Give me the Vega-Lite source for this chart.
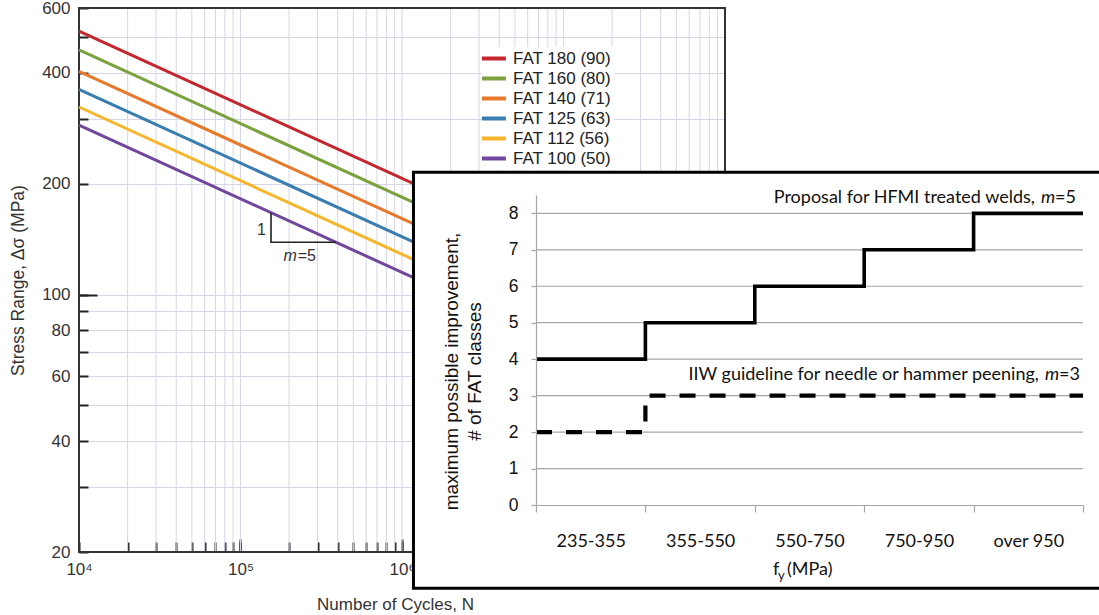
{
  "$schema": "https://vega.github.io/schema/vega-lite/v6.json",
  "width": 1099,
  "height": 615,
  "autosize": {"type": "none"},
  "padding": 0,
  "background": "white",
  "config": {"view": {"stroke": null}, "font": "Liberation Sans"},
  "datasets": {
    "gridN": [
      {"N": 20000}, {"N": 30000}, {"N": 40000}, {"N": 50000}, {"N": 60000}, {"N": 70000}, {"N": 80000}, {"N": 90000},
      {"N": 100000}, {"N": 200000}, {"N": 300000}, {"N": 400000}, {"N": 500000}, {"N": 600000}, {"N": 700000}, {"N": 800000}, {"N": 900000},
      {"N": 1000000}, {"N": 2000000}, {"N": 3000000}, {"N": 4000000}, {"N": 5000000}, {"N": 6000000}, {"N": 7000000}, {"N": 8000000}, {"N": 9000000},
      {"N": 10000000}, {"N": 20000000}, {"N": 30000000}, {"N": 40000000}, {"N": 50000000}, {"N": 60000000}, {"N": 70000000}, {"N": 80000000}, {"N": 90000000}
    ],
    "fat": [
      {"series": "FAT 180 (90)", "N": 10000, "S": 519.3}, {"series": "FAT 180 (90)", "N": 10000000, "S": 130.5},
      {"series": "FAT 160 (80)", "N": 10000, "S": 461.6}, {"series": "FAT 160 (80)", "N": 10000000, "S": 116.0},
      {"series": "FAT 140 (71)", "N": 10000, "S": 403.9}, {"series": "FAT 140 (71)", "N": 10000000, "S": 101.5},
      {"series": "FAT 125 (63)", "N": 10000, "S": 360.6}, {"series": "FAT 125 (63)", "N": 10000000, "S": 90.6},
      {"series": "FAT 112 (56)", "N": 10000, "S": 323.1}, {"series": "FAT 112 (56)", "N": 10000000, "S": 81.2},
      {"series": "FAT 100 (50)", "N": 10000, "S": 288.5}, {"series": "FAT 100 (50)", "N": 10000000, "S": 72.5}
    ],
    "slope": [
      {"N": 154500, "S": 166.9, "o": 1},
      {"N": 154500, "S": 138.7, "o": 2},
      {"N": 390000, "S": 138.7, "o": 3}
    ],
    "mainNotes": [
      {"N": 154500, "S": 150, "part": "rise", "label": "1"},
      {"N": 223000, "S": 127.6, "part": "m", "label": "m"},
      {"N": 223000, "S": 127.6, "part": "val", "label": "=5"}
    ],
    "steps": [
      {"i": 0, "band": "235-355", "hfmi": 4, "iiw": 2},
      {"i": 1, "band": "355-550", "hfmi": 5, "iiw": 3},
      {"i": 2, "band": "550-750", "hfmi": 6, "iiw": 3},
      {"i": 3, "band": "750-950", "hfmi": 7, "iiw": 3},
      {"i": 4, "band": "over 950", "hfmi": 8, "iiw": 3},
      {"i": 5, "band": "", "hfmi": 8, "iiw": 3}
    ],
    "igrid": [{"v": 1}, {"v": 2}, {"v": 3}, {"v": 4}, {"v": 5}, {"v": 6}, {"v": 7}, {"v": 8}],
    "insetNotes": [
      {"i": 5, "v": 8.42, "part": "h_text", "label": "Proposal for HFMI treated welds,"},
      {"i": 5, "v": 8.42, "part": "h_m", "label": "m"},
      {"i": 5, "v": 8.42, "part": "h_val", "label": "=5"},
      {"i": 5, "v": 3.566, "part": "g_text", "label": "IIW guideline for needle or hammer peening,"},
      {"i": 5, "v": 3.566, "part": "g_m", "label": "m"},
      {"i": 5, "v": 3.566, "part": "g_val", "label": "=3"},
      {"i": 2.5, "v": -1.783, "part": "t_f", "label": "f"},
      {"i": 2.5, "v": -1.783, "part": "t_y", "label": "y"},
      {"i": 2.5, "v": -1.783, "part": "t_unit", "label": "(MPa)"}
    ]
  },
  "layer": [
    {
      "resolve": {"axis": {"x": "independent", "y": "independent"}},
      "layer": [
        {
          "data": {"name": "gridN"},
          "mark": {"type": "rule", "color": "#d6d6e8", "strokeWidth": 1},
          "encoding": {
            "x": {"field": "N", "type": "quantitative", "scale": {"type": "log", "domain": [10000, 100000000], "range": [79, 725], "nice": false}, "axis": null},
            "y": {"datum": 20, "type": "quantitative", "scale": {"type": "log", "domain": [20, 600], "range": [552, 8], "nice": false}, "axis": null},
            "y2": {"datum": 600}
          }
        },
        {
          "data": {"values": [{"frame": "plot"}]},
          "mark": {"type": "rect", "filled": false, "stroke": "#333333", "strokeWidth": 2},
          "encoding": {
            "x": {"datum": 10000, "type": "quantitative", "scale": {"type": "log", "domain": [10000, 100000000], "range": [79, 725], "nice": false}, "axis": null},
            "x2": {"datum": 100000000},
            "y": {"datum": 20, "type": "quantitative", "scale": {"type": "log", "domain": [20, 600], "range": [552, 8], "nice": false}, "axis": null},
            "y2": {"datum": 600}
          }
        },
        {
          "data": {"name": "fat"},
          "mark": {"type": "line", "strokeWidth": 3},
          "encoding": {
            "x": {
              "field": "N", "type": "quantitative",
              "scale": {"type": "log", "domain": [10000, 100000000], "range": [79, 725], "nice": false},
              "axis": {
                "orient": "bottom", "offset": -63, "domain": false, "grid": false,
                "values": [10000, 20000, 30000, 40000, 50000, 60000, 70000, 80000, 90000, 100000, 200000, 300000, 400000, 500000, 600000, 700000, 800000, 900000, 1000000, 2000000, 3000000, 4000000, 5000000, 6000000, 7000000, 8000000, 9000000, 10000000, 20000000, 30000000, 40000000, 50000000, 60000000, 70000000, 80000000, 90000000, 100000000],
                "tickColor": "#222222", "tickWidth": 2, "tickSize": -10, "labelPadding": 19,
                "labelExpr": "datum.value==10000?'10⁴':datum.value==100000?'10⁵':datum.value==1000000?'10⁶':datum.value==10000000?'10⁷':''",
                "labelFont": "Liberation Sans", "labelFontSize": 17, "labelColor": "#333333", "labelOverlap": false, "labelFlush": false,
                "title": "Number of Cycles, N", "titleFont": "Liberation Sans", "titleFontSize": 17, "titleFontWeight": "normal", "titleColor": "#333333",
                "titleX": 395, "titleY": 52, "titleBaseline": "middle", "titleAlign": "center"
              }
            },
            "y": {
              "field": "S", "type": "quantitative",
              "scale": {"type": "log", "domain": [20, 600], "range": [552, 8], "nice": false},
              "axis": {
                "orient": "left", "offset": -79, "domain": false, "grid": true, "gridColor": "#d6d6e8", "gridWidth": 1,
                "values": [20, 30, 40, 50, 60, 70, 80, 90, 100, 200, 300, 400, 500, 600],
                "tickColor": "#222222", "tickWidth": 2, "tickSize": -9, "labelPadding": 18,
                "format": "d",
                "labelExpr": "indexof([20,40,60,80,100,200,400,600], datum.value) >= 0 ? datum.label : ''",
                "labelFont": "Liberation Sans", "labelFontSize": 17, "labelColor": "#333333", "labelOverlap": false, "labelFlush": false,
                "title": "Stress Range, Δσ (MPa)", "titleFont": "Liberation Sans", "titleFontSize": 17.5, "titleFontWeight": "normal", "titleColor": "#333333",
                "titleX": -61, "titleY": 280, "titleBaseline": "middle", "titleAlign": "center"
              }
            },
            "color": {
              "field": "series", "type": "nominal",
              "scale": {
                "domain": ["FAT 180 (90)", "FAT 160 (80)", "FAT 140 (71)", "FAT 125 (63)", "FAT 112 (56)", "FAT 100 (50)"],
                "range": ["#c4262e", "#7ba23f", "#e8782a", "#3a7db0", "#f6b52a", "#71479d"]
              },
              "legend": {
                "orient": "none", "legendX": 482.4, "legendY": 47, "title": null,
                "symbolType": "M-2,0H2", "symbolSize": 144, "symbolStrokeWidth": 4,
                "labelFont": "Liberation Sans", "labelFontSize": 17, "labelColor": "#222222", "labelOffset": 10.6,
                "rowPadding": 2, "padding": 3, "fillColor": "white", "strokeColor": null
              }
            }
          }
        },
        {
          "data": {"name": "slope"},
          "mark": {"type": "line", "color": "#222222", "strokeWidth": 1.6},
          "encoding": {
            "x": {
              "field": "N", "type": "quantitative",
              "scale": {"type": "log", "domain": [10000, 100000000], "range": [79, 725], "nice": false},
              "axis": {"orient": "bottom", "offset": -63, "domain": false, "grid": false, "labels": false, "title": null,
                       "values": [100000, 1000000, 10000000], "tickColor": "#222222", "tickWidth": 2, "tickSize": -13}
            },
            "y": {
              "field": "S", "type": "quantitative",
              "scale": {"type": "log", "domain": [20, 600], "range": [552, 8], "nice": false},
              "axis": {"orient": "left", "offset": -79, "domain": false, "grid": false, "labels": false, "title": null,
                       "values": [100], "tickColor": "#222222", "tickWidth": 2, "tickSize": -18}
            },
            "order": {"field": "o", "type": "quantitative"}
          }
        },
        {
          "data": {"name": "mainNotes"},
          "transform": [{"filter": "datum.part == 'rise'"}],
          "mark": {"type": "text", "align": "right", "dx": -5, "font": "Liberation Sans", "fontSize": 16, "color": "#333333"},
          "encoding": {
            "x": {"field": "N", "type": "quantitative", "scale": {"type": "log", "domain": [10000, 100000000], "range": [79, 725], "nice": false}, "axis": null},
            "y": {"field": "S", "type": "quantitative", "scale": {"type": "log", "domain": [20, 600], "range": [552, 8], "nice": false}, "axis": null},
            "text": {"field": "label"}
          }
        },
        {
          "data": {"name": "mainNotes"},
          "transform": [{"filter": "datum.part == 'm'"}],
          "mark": {"type": "text", "align": "right", "dx": 0, "font": "Liberation Sans", "fontSize": 16, "fontStyle": "italic", "color": "#333333"},
          "encoding": {
            "x": {"field": "N", "type": "quantitative", "scale": {"type": "log", "domain": [10000, 100000000], "range": [79, 725], "nice": false}, "axis": null},
            "y": {"field": "S", "type": "quantitative", "scale": {"type": "log", "domain": [20, 600], "range": [552, 8], "nice": false}, "axis": null},
            "text": {"field": "label"}
          }
        },
        {
          "data": {"name": "mainNotes"},
          "transform": [{"filter": "datum.part == 'val'"}],
          "mark": {"type": "text", "align": "left", "dx": 1, "font": "Liberation Sans", "fontSize": 16, "color": "#333333"},
          "encoding": {
            "x": {"field": "N", "type": "quantitative", "scale": {"type": "log", "domain": [10000, 100000000], "range": [79, 725], "nice": false}, "axis": null},
            "y": {"field": "S", "type": "quantitative", "scale": {"type": "log", "domain": [20, 600], "range": [552, 8], "nice": false}, "axis": null},
            "text": {"field": "label"}
          }
        }
      ]
    },
    {
      "resolve": {"axis": {"x": "independent", "y": "independent"}},
      "layer": [
        {
          "data": {"values": [{"frame": "inset"}]},
          "mark": {"type": "rect", "fill": "white", "stroke": "black", "strokeWidth": 3},
          "encoding": {
            "x": {"datum": -1.12, "type": "quantitative", "scale": {"domain": [0, 5], "range": [536, 1083], "nice": false, "zero": false}, "axis": null},
            "x2": {"datum": 5.4},
            "y": {"datum": 9.125, "type": "quantitative", "scale": {"domain": [0, 8.5], "range": [505, 195.1], "nice": false, "zero": false}, "axis": null},
            "y2": {"datum": -2.285}
          }
        },
        {
          "data": {"name": "igrid"},
          "mark": {"type": "rule", "color": "#a6a6a6", "strokeWidth": 1.2},
          "encoding": {
            "x": {"datum": 0, "type": "quantitative", "scale": {"domain": [0, 5], "range": [536, 1083], "nice": false, "zero": false}, "axis": null},
            "x2": {"datum": 5},
            "y": {"field": "v", "type": "quantitative", "scale": {"domain": [0, 8.5], "range": [505, 195.1], "nice": false, "zero": false}, "axis": null}
          }
        },
        {
          "data": {"name": "steps"},
          "mark": {"type": "line", "interpolate": "step-after", "color": "black", "strokeWidth": 3.6},
          "encoding": {
            "x": {
              "field": "i", "type": "quantitative",
              "scale": {"domain": [0, 5], "range": [536, 1083], "nice": false, "zero": false},
              "axis": {
                "orient": "bottom", "offset": -110, "domain": true, "domainColor": "#a6a6a6", "domainWidth": 1.2,
                "ticks": true, "tickColor": "#a6a6a6", "tickWidth": 1.2, "tickSize": 7, "grid": false,
                "values": [0, 1, 2, 3, 4, 5],
                "labelExpr": "datum.value==0?'235-355':datum.value==1?'355-550':datum.value==2?'550-750':datum.value==3?'750-950':datum.value==4?'over 950':''",
                "labelOffset": 54.7, "labelFlush": false, "labelOverlap": false, "labelPadding": 20,
                "labelFont": "Lato", "labelFontSize": 18, "labelColor": "#111111",
                "title": null, "zindex": 1
              }
            },
            "y": {
              "field": "hfmi", "type": "quantitative",
              "scale": {"domain": [0, 8.5], "range": [505, 195.1], "nice": false, "zero": false},
              "axis": {
                "orient": "left", "offset": -536, "domain": true, "domainColor": "#a6a6a6", "domainWidth": 1.2,
                "ticks": true, "tickColor": "#a6a6a6", "tickWidth": 1.2, "tickSize": 5, "grid": false,
                "values": [0, 1, 2, 3, 4, 5, 6, 7, 8],
                "labelFont": "Liberation Sans", "labelFontSize": 17.5, "labelColor": "#111111", "labelPadding": 13,
                "title": ["maximum possible improvement,", "# of FAT classes"],
                "titleFont": "Liberation Sans", "titleFontSize": 19, "titleFontWeight": "normal", "titleColor": "#111111",
                "titleX": -85, "titleY": 371, "titleBaseline": "middle", "titleAlign": "center", "titleLineHeight": 23,
                "zindex": 1
              }
            }
          }
        },
        {
          "data": {"name": "steps"},
          "mark": {"type": "line", "interpolate": "step-after", "color": "black", "strokeWidth": 4.2, "strokeDash": [16, 14], "strokeCap": "butt"},
          "encoding": {
            "x": {"field": "i", "type": "quantitative", "scale": {"domain": [0, 5], "range": [536, 1083], "nice": false, "zero": false}, "axis": null},
            "y": {"field": "iiw", "type": "quantitative", "scale": {"domain": [0, 8.5], "range": [505, 195.1], "nice": false, "zero": false}, "axis": null}
          }
        },
        {
          "data": {"name": "insetNotes"},
          "transform": [{"filter": "datum.part == 'h_text'"}],
          "mark": {"type": "text", "align": "right", "dx": -48.1, "font": "Lato", "fontSize": 18, "color": "#111111"},
          "encoding": {
            "x": {"field": "i", "type": "quantitative", "scale": {"domain": [0, 5], "range": [536, 1083], "nice": false, "zero": false}, "axis": null},
            "y": {"field": "v", "type": "quantitative", "scale": {"domain": [0, 8.5], "range": [505, 195.1], "nice": false, "zero": false}, "axis": null},
            "text": {"field": "label"}
          }
        },
        {
          "data": {"name": "insetNotes"},
          "transform": [{"filter": "datum.part == 'h_m'"}],
          "mark": {"type": "text", "align": "right", "dx": -27.9, "font": "Lato", "fontSize": 18, "fontStyle": "italic", "color": "#111111"},
          "encoding": {
            "x": {"field": "i", "type": "quantitative", "scale": {"domain": [0, 5], "range": [536, 1083], "nice": false, "zero": false}, "axis": null},
            "y": {"field": "v", "type": "quantitative", "scale": {"domain": [0, 8.5], "range": [505, 195.1], "nice": false, "zero": false}, "axis": null},
            "text": {"field": "label"}
          }
        },
        {
          "data": {"name": "insetNotes"},
          "transform": [{"filter": "datum.part == 'h_val'"}],
          "mark": {"type": "text", "align": "right", "dx": -7, "font": "Lato", "fontSize": 18, "color": "#111111"},
          "encoding": {
            "x": {"field": "i", "type": "quantitative", "scale": {"domain": [0, 5], "range": [536, 1083], "nice": false, "zero": false}, "axis": null},
            "y": {"field": "v", "type": "quantitative", "scale": {"domain": [0, 8.5], "range": [505, 195.1], "nice": false, "zero": false}, "axis": null},
            "text": {"field": "label"}
          }
        },
        {
          "data": {"name": "insetNotes"},
          "transform": [{"filter": "datum.part == 'g_text'"}],
          "mark": {"type": "text", "align": "right", "dx": -44.1, "font": "Lato", "fontSize": 18, "color": "#111111"},
          "encoding": {
            "x": {"field": "i", "type": "quantitative", "scale": {"domain": [0, 5], "range": [536, 1083], "nice": false, "zero": false}, "axis": null},
            "y": {"field": "v", "type": "quantitative", "scale": {"domain": [0, 8.5], "range": [505, 195.1], "nice": false, "zero": false}, "axis": null},
            "text": {"field": "label"}
          }
        },
        {
          "data": {"name": "insetNotes"},
          "transform": [{"filter": "datum.part == 'g_m'"}],
          "mark": {"type": "text", "align": "right", "dx": -23.9, "font": "Lato", "fontSize": 18, "fontStyle": "italic", "color": "#111111"},
          "encoding": {
            "x": {"field": "i", "type": "quantitative", "scale": {"domain": [0, 5], "range": [536, 1083], "nice": false, "zero": false}, "axis": null},
            "y": {"field": "v", "type": "quantitative", "scale": {"domain": [0, 8.5], "range": [505, 195.1], "nice": false, "zero": false}, "axis": null},
            "text": {"field": "label"}
          }
        },
        {
          "data": {"name": "insetNotes"},
          "transform": [{"filter": "datum.part == 'g_val'"}],
          "mark": {"type": "text", "align": "right", "dx": -3, "font": "Lato", "fontSize": 18, "color": "#111111"},
          "encoding": {
            "x": {"field": "i", "type": "quantitative", "scale": {"domain": [0, 5], "range": [536, 1083], "nice": false, "zero": false}, "axis": null},
            "y": {"field": "v", "type": "quantitative", "scale": {"domain": [0, 8.5], "range": [505, 195.1], "nice": false, "zero": false}, "axis": null},
            "text": {"field": "label"}
          }
        },
        {
          "data": {"name": "insetNotes"},
          "transform": [{"filter": "datum.part == 't_f'"}],
          "mark": {"type": "text", "align": "left", "dx": -36.5, "font": "Lato", "fontSize": 18, "color": "#111111"},
          "encoding": {
            "x": {"field": "i", "type": "quantitative", "scale": {"domain": [0, 5], "range": [536, 1083], "nice": false, "zero": false}, "axis": null},
            "y": {"field": "v", "type": "quantitative", "scale": {"domain": [0, 8.5], "range": [505, 195.1], "nice": false, "zero": false}, "axis": null},
            "text": {"field": "label"}
          }
        },
        {
          "data": {"name": "insetNotes"},
          "transform": [{"filter": "datum.part == 't_y'"}],
          "mark": {"type": "text", "align": "left", "dx": -31.5, "dy": 6, "font": "Lato", "fontSize": 13, "color": "#111111"},
          "encoding": {
            "x": {"field": "i", "type": "quantitative", "scale": {"domain": [0, 5], "range": [536, 1083], "nice": false, "zero": false}, "axis": null},
            "y": {"field": "v", "type": "quantitative", "scale": {"domain": [0, 8.5], "range": [505, 195.1], "nice": false, "zero": false}, "axis": null},
            "text": {"field": "label"}
          }
        },
        {
          "data": {"name": "insetNotes"},
          "transform": [{"filter": "datum.part == 't_unit'"}],
          "mark": {"type": "text", "align": "left", "dx": -22.5, "font": "Lato", "fontSize": 18, "color": "#111111"},
          "encoding": {
            "x": {"field": "i", "type": "quantitative", "scale": {"domain": [0, 5], "range": [536, 1083], "nice": false, "zero": false}, "axis": null},
            "y": {"field": "v", "type": "quantitative", "scale": {"domain": [0, 8.5], "range": [505, 195.1], "nice": false, "zero": false}, "axis": null},
            "text": {"field": "label"}
          }
        }
      ]
    }
  ],
  "resolve": {"scale": {"x": "independent", "y": "independent"}, "axis": {"x": "independent", "y": "independent"}}
}
